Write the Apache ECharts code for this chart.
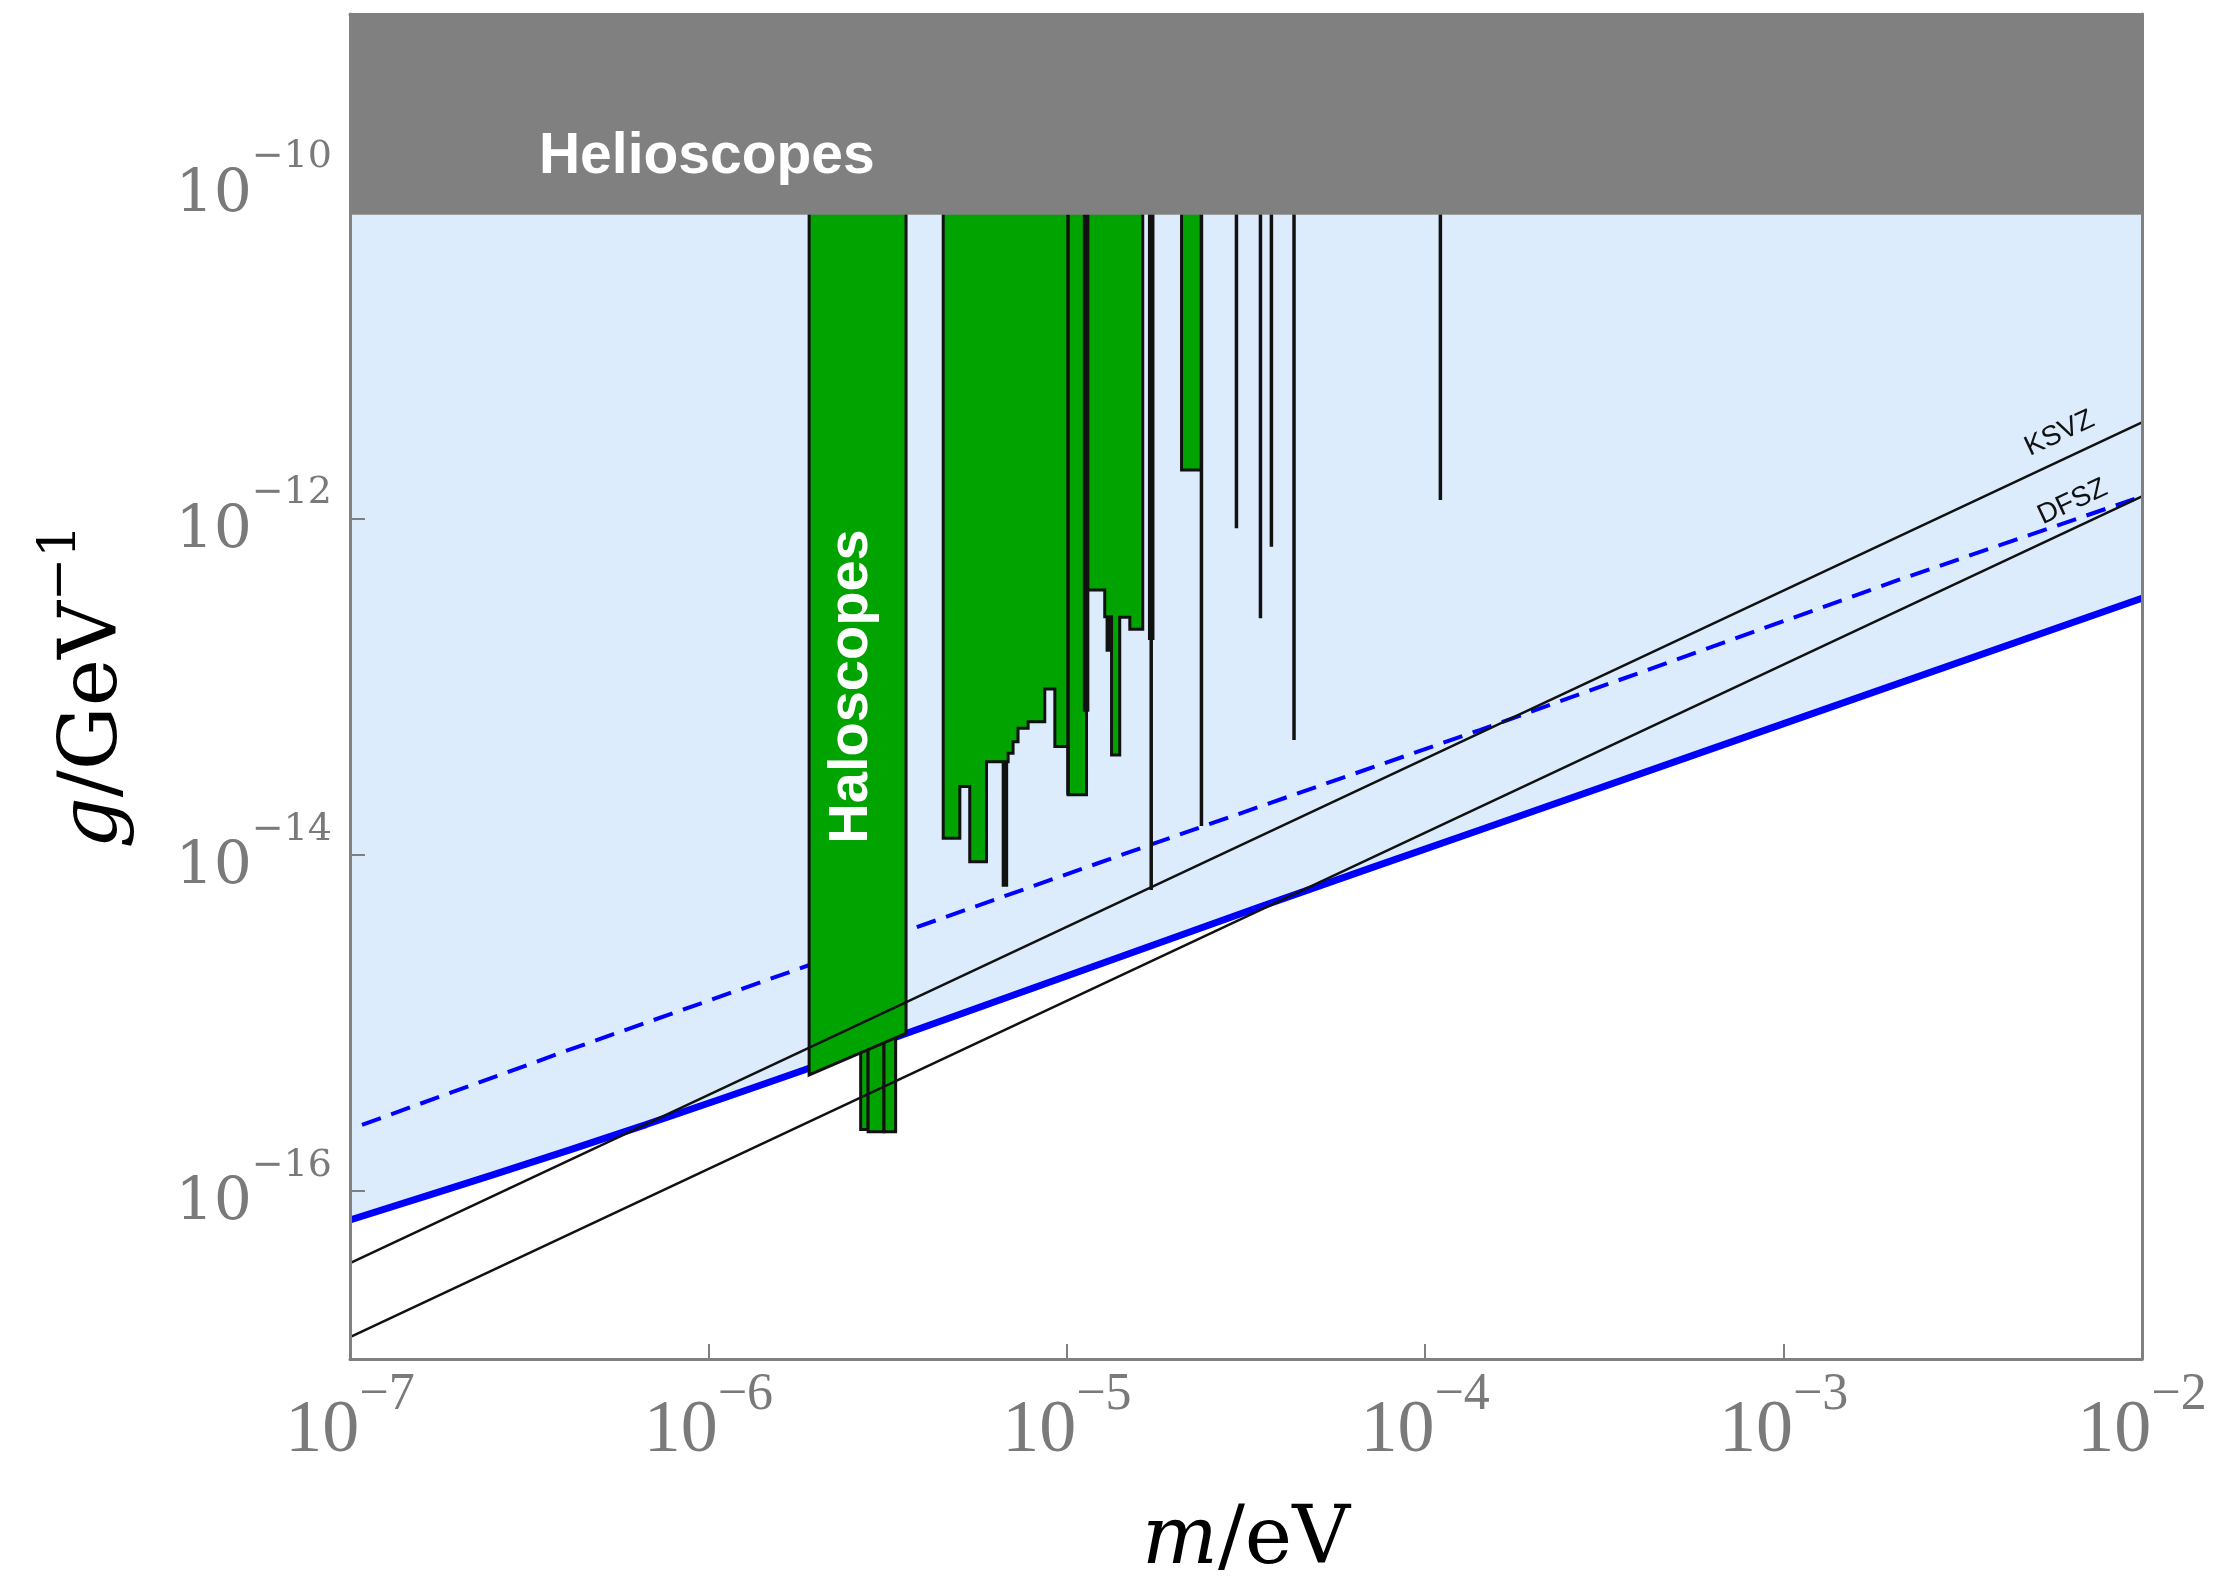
<!DOCTYPE html>
<html><head><meta charset="utf-8">
<script src="https://cdn.jsdelivr.net/npm/echarts@6/dist/echarts.min.js"></script>
<style>html,body{margin:0;padding:0;background:#fff}#chart{width:2213px;height:1595px}</style>
</head><body><div id="chart"></div>
<script>
// ---- axes ----
const xTickValues = [1e-7, 1e-6, 1e-5, 1e-4, 1e-3, 1e-2];
const yTickValues = [1e-16, 1e-14, 1e-12, 1e-10];
const mMin = 1e-7, mMax = 1e-2, gMin = 1e-17, gMax = 1e-9;

// ---- helioscope limit ----
const helioscopeLimit = 6.4e-11;

// ---- blue curves ----
const blueSolidM = [1e-7, 2.49e-7, 6.70e-7, 1.85e-6, 3.45e-5, 1.42e-4, 1e-2];
const blueSolidG = [6.71e-17, 1.24e-16, 2.48e-16, 5.24e-16, 4.88e-15, 1.40e-14, 3.35e-13];
const blueDashedM = [1.08e-7, 4.08e-7, 1.70e-5, 1.42e-4, 2.11e-3, 1e-2];
const blueDashedG = [2.47e-16, 6.89e-16, 1.14e-14, 5.51e-14, 4.33e-13, 1.35e-12];

// ---- QCD axion lines ----
const ksvzM = [1e-7, 1e-2];
const ksvzG = [3.72e-17, 3.72e-12];
const dfszM = [1e-7, 1e-2];
const dfszG = [1.35e-17, 1.35e-12];

// ---- haloscopes ----
const haloColumnM = [1.91e-6, 3.56e-6];
const haloColumnBottomG = [4.89e-16, 8.65e-16];
const haloSmallBarM = [2.66e-6, 2.79e-6, 3.09e-6, 3.33e-6];
const haloSmallBarBottomG = [2.32e-16, 2.25e-16, 2.25e-16];
const haloSmallBarTopG = 1e-15;
const haloStepM = [4.52e-6, 5.03e-6, 5.36e-6, 5.97e-6, 6.86e-6, 7.08e-6, 7.31e-6, 7.80e-6, 8.68e-6, 9.26e-6, 1.008e-5, 1.135e-5, 1.276e-5, 1.333e-5, 1.405e-5, 1.499e-5, 1.629e-5];
const haloStepG = [1.25e-14, 2.54e-14, 9.08e-15, 3.57e-14, 4.01e-14, 4.70e-14, 5.64e-14, 6.18e-14, 9.66e-14, 4.39e-14, 2.27e-14, 3.75e-13, 2.60e-13, 3.92e-14, 2.58e-13, 2.19e-13];
const haloBlockM = [2.09e-5, 2.375e-5];
const haloBlockBottomG = 1.94e-12;
const thickLineM = [6.72e-6, 1.132e-5, 1.31e-5, 1.72e-5];
const thickLineTopG = [3.55e-14, gMax, 2.60e-13, gMax];
const thickLineBottomG = [6.44e-15, 7.08e-14, 1.61e-13, 1.89e-13];
const thinLineM = [1.008e-5, 1.72e-5, 2.375e-5, 2.974e-5, 3.470e-5, 3.723e-5, 4.305e-5, 1.1025e-4];
const thinLineBottomG = [2.27e-14, 6.17e-15, 1.48e-14, 8.73e-13, 2.55e-13, 6.79e-13, 4.81e-14, 1.285e-12];

// ---- annotations ----
const annotationText = ['Helioscopes', 'Haloscopes', 'KSVZ', 'DFSZ'];
const annotationM = [9.9e-7, 2.51e-6, 5.89e-3, 6.40e-3];
const annotationG = [1.40e-10, 1.0e-13, 3.20e-12, 1.25e-12];

// ---------------------------------------------------------------
const GREEN = '#00a300', LIGHTBLUE = '#dcecfc', HELIO = '#808080', AXIS = '#808080', LABEL = '#7a7a7a';

function zip(a, b) { return a.map((v, i) => [v, b[i]]); }

function polySeries(getPolys, style, z) {
  return {
    type: 'custom', coordinateSystem: 'cartesian2d', z: z, silent: true, clip: true,
    data: [[mMin, gMin]],
    renderItem: function (params, api) {
      return {
        type: 'group',
        children: getPolys().map(pts => ({
          type: 'polygon',
          shape: { points: pts.map(p => api.coord(p)) },
          style: style
        }))
      };
    }
  };
}

function lightBluePoly() {
  const pts = [[mMin, helioscopeLimit], [mMax, helioscopeLimit]];
  for (let i = blueSolidM.length - 1; i >= 0; i--) pts.push([blueSolidM[i], blueSolidG[i]]);
  return [pts];
}
function helioPoly() {
  return [[[mMin, helioscopeLimit], [mMax, helioscopeLimit], [mMax, gMax], [mMin, gMax]]];
}
function haloSmallPolys() {
  const out = [];
  for (let i = 0; i < haloSmallBarBottomG.length; i++) {
    out.push([[haloSmallBarM[i], haloSmallBarTopG], [haloSmallBarM[i + 1], haloSmallBarTopG],
              [haloSmallBarM[i + 1], haloSmallBarBottomG[i]], [haloSmallBarM[i], haloSmallBarBottomG[i]]]);
  }
  return out;
}
function haloMainPolys() {
  const column = [[haloColumnM[0], gMax], [haloColumnM[0], haloColumnBottomG[0]],
                  [haloColumnM[1], haloColumnBottomG[1]], [haloColumnM[1], gMax]];
  const step = [[haloStepM[0], gMax]];
  for (let i = 0; i < haloStepG.length; i++) {
    step.push([haloStepM[i], haloStepG[i]]);
    step.push([haloStepM[i + 1], haloStepG[i]]);
  }
  step.push([haloStepM[haloStepM.length - 1], gMax]);
  const block = [[haloBlockM[0], gMax], [haloBlockM[0], haloBlockBottomG],
                 [haloBlockM[1], haloBlockBottomG], [haloBlockM[1], gMax]];
  return [column, step, block];
}

function vLineSeries(ms, tops, bottoms, width, z) {
  return {
    type: 'custom', coordinateSystem: 'cartesian2d', z: z, silent: true, clip: true,
    data: [[mMin, gMin]],
    renderItem: function (params, api) {
      return {
        type: 'group',
        children: ms.map((m, i) => {
          const a = api.coord([m, tops[i]]), b = api.coord([m, bottoms[i]]);
          return { type: 'line', shape: { x1: a[0], y1: a[1], x2: b[0], y2: b[1] },
                   style: { stroke: '#111', lineWidth: width, lineCap: 'butt' } };
        })
      };
    }
  };
}

const annotationStyle = [
  { fontSize: 57, fontWeight: 'bold', fontFamily: 'Liberation Sans', fill: '#fff', rotation: 0 },
  { fontSize: 56, fontWeight: 'bold', fontFamily: 'Liberation Sans', fill: '#fff', rotation: Math.PI / 2 },
  { fontSize: 28, fontWeight: 'normal', fontFamily: 'Liberation Sans', fill: '#111', rotation: Math.atan(168.1 / 358.5) },
  { fontSize: 28, fontWeight: 'normal', fontFamily: 'Liberation Sans', fill: '#111', rotation: Math.atan(168.1 / 358.5) }
];

const textSeries = {
  type: 'custom', coordinateSystem: 'cartesian2d', z: 20, silent: true, clip: false,
  data: [[mMin, gMin]],
  renderItem: function (params, api) {
    return {
      type: 'group',
      children: annotationText.map((t, i) => {
        const p = api.coord([annotationM[i], annotationG[i]]);
        const s = annotationStyle[i];
        return { type: 'text', x: p[0], y: p[1], rotation: s.rotation,
                 style: { text: t, fill: s.fill, fontSize: s.fontSize, fontWeight: s.fontWeight,
                          fontFamily: s.fontFamily, align: 'center', verticalAlign: 'middle' } };
      })
    };
  }
};

function expLabel(v) {
  const e = Math.round(Math.log10(v));
  return '{b|10}{s|\u2212' + Math.abs(e) + '}';
}

const chart = echarts.init(document.getElementById('chart'), null, { renderer: 'canvas' });
chart.setOption({
  animation: false,
  backgroundColor: '#fff',
  grid: { left: 350, right: 71, top: 14, bottom: 236, containLabel: false, outerBoundsMode: 'none' },
  xAxis: [{
    type: 'log', logBase: 10, min: mMin, max: mMax, position: 'bottom', z: 30,
    axisLine: { show: true, onZero: false, lineStyle: { color: AXIS, width: 3 } },
    axisTick: { show: true, inside: true, length: 15, customValues: xTickValues, lineStyle: { color: AXIS, width: 2 } },
    axisLabel: {
      customValues: xTickValues, margin: 10, formatter: expLabel,
      rich: {
        b: { fontFamily: 'Liberation Serif', fontSize: 74, lineHeight: 100, verticalAlign: 'bottom', color: LABEL },
        s: { fontFamily: 'Liberation Serif', fontSize: 52, lineHeight: 50, verticalAlign: 'top', color: LABEL }
      }
    },
    splitLine: { show: false }, minorTick: { show: false },
    name: '{i|m}{n|/eV}', nameLocation: 'middle', nameGap: 138,
    nameTextStyle: {
      rich: {
        i: { fontFamily: 'DejaVu Serif', fontStyle: 'italic', fontSize: 80, lineHeight: 90, color: '#000' },
        n: { fontFamily: 'DejaVu Serif', fontSize: 80, lineHeight: 90, color: '#000' }
      }
    }
  }, {
    type: 'log', logBase: 10, min: mMin, max: mMax, position: 'top', z: 30,
    axisLine: { show: true, onZero: false, lineStyle: { color: AXIS, width: 3 } },
    axisTick: { show: false }, axisLabel: { show: false }, splitLine: { show: false }
  }],
  yAxis: [{
    type: 'log', logBase: 10, min: gMin, max: gMax, position: 'left', z: 30,
    axisLine: { show: true, onZero: false, lineStyle: { color: AXIS, width: 3 } },
    axisTick: { show: true, inside: true, length: 15, customValues: yTickValues, lineStyle: { color: AXIS, width: 2 } },
    axisLabel: {
      customValues: yTickValues, margin: 18, formatter: expLabel,
      rich: {
        b: { fontFamily: 'DejaVu Serif', fontSize: 60, lineHeight: 88, verticalAlign: 'bottom', color: LABEL },
        s: { fontFamily: 'DejaVu Serif', fontSize: 38, lineHeight: 40, verticalAlign: 'top', color: LABEL }
      }
    },
    splitLine: { show: false }, minorTick: { show: false },
    name: '{i|g}{n|/GeV}{s|\u22121}', nameLocation: 'middle', nameGap: 215,
    nameTextStyle: {
      rich: {
        i: { fontFamily: 'DejaVu Serif', fontStyle: 'italic', fontSize: 80, lineHeight: 100, verticalAlign: 'bottom', color: '#000' },
        n: { fontFamily: 'DejaVu Serif', fontSize: 80, lineHeight: 100, verticalAlign: 'bottom', color: '#000' },
        s: { fontFamily: 'DejaVu Serif', fontSize: 52, lineHeight: 52, verticalAlign: 'top', color: '#000' }
      }
    }
  }, {
    type: 'log', logBase: 10, min: gMin, max: gMax, position: 'right', z: 30,
    axisLine: { show: true, onZero: false, lineStyle: { color: AXIS, width: 3 } },
    axisTick: { show: false }, axisLabel: { show: false }, splitLine: { show: false }
  }],
  series: [
    polySeries(lightBluePoly, { fill: LIGHTBLUE }, 1),
    { type: 'line', data: zip(blueSolidM, blueSolidG), z: 2, showSymbol: false, silent: true, smooth: 0.3,
      lineStyle: { color: '#0000ff', width: 7 } },
    { type: 'line', data: zip(blueDashedM, blueDashedG), z: 2, showSymbol: false, silent: true,
      lineStyle: { color: '#0000ff', width: 4, type: [20, 11] } },
    polySeries(haloSmallPolys, { fill: GREEN, stroke: '#111', lineWidth: 3 }, 3),
    polySeries(haloMainPolys, { fill: GREEN, stroke: '#111', lineWidth: 3 }, 4),
    vLineSeries(thickLineM, thickLineTopG, thickLineBottomG, 6.5, 5),
    vLineSeries(thinLineM, thinLineM.map(() => gMax), thinLineBottomG, 3.5, 5),
    { type: 'line', data: zip(ksvzM, ksvzG), z: 6, showSymbol: false, silent: true,
      lineStyle: { color: '#111', width: 2.5 } },
    { type: 'line', data: zip(dfszM, dfszG), z: 6, showSymbol: false, silent: true,
      lineStyle: { color: '#111', width: 2.5 } },
    polySeries(helioPoly, { fill: HELIO }, 10),
    textSeries
  ]
});
</script>
</body></html>
